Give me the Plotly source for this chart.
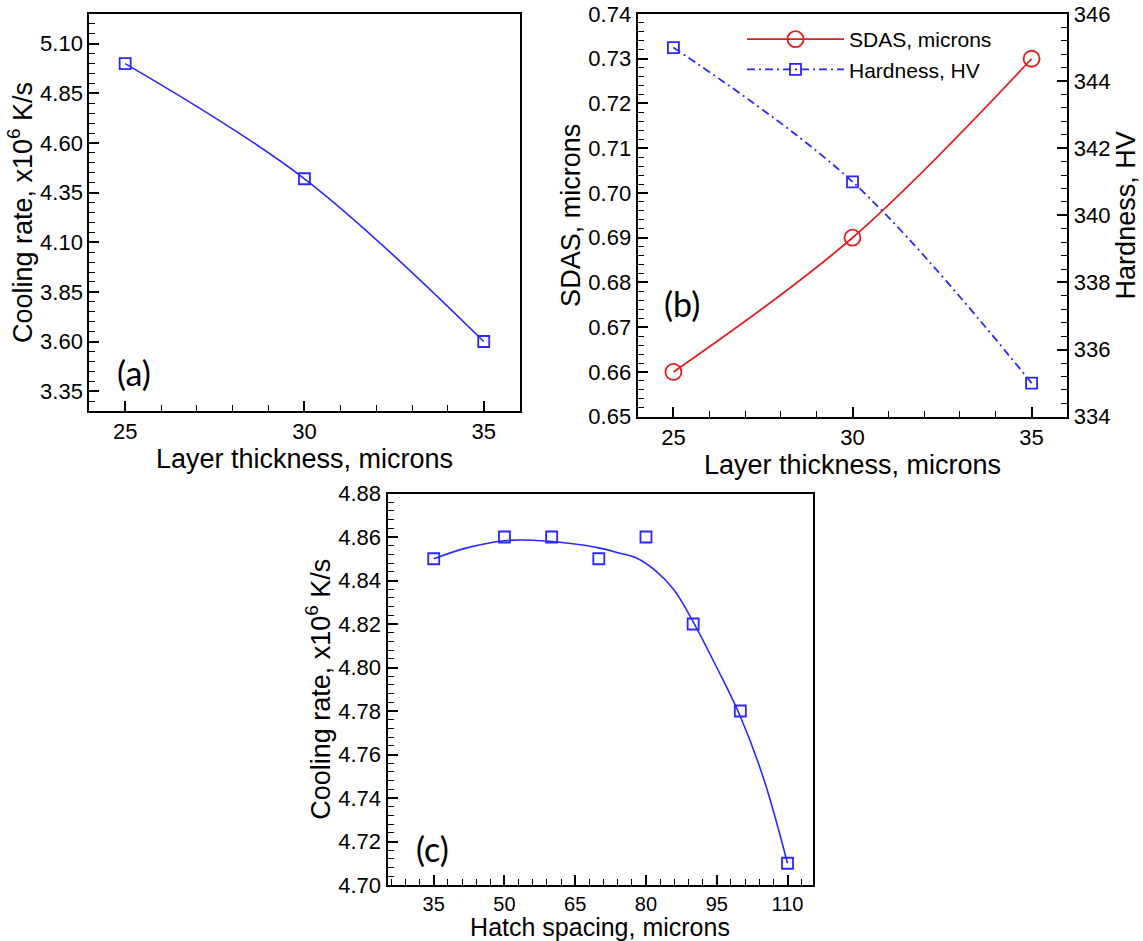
import plotly.graph_objects as go

# ---------------- data ----------------
# Panel (a): cooling rate vs layer thickness
layer_thickness = [25, 30, 35]
cooling_rate_a = [5.00, 4.42, 3.60]

# Panel (b): SDAS and hardness vs layer thickness
sdas = [0.66, 0.69, 0.73]
hardness = [345, 341, 335]

# Panel (c): cooling rate vs hatch spacing (points + fitted curve)
hatch_spacing = [35, 50, 60, 70, 80, 90, 100, 110]
cooling_rate_c = [4.85, 4.86, 4.86, 4.85, 4.86, 4.82, 4.78, 4.71]
fit_x = [35, 42, 50, 56, 64, 70, 74, 78, 82, 86, 90, 95, 100, 105, 110]
fit_y = [4.850, 4.855, 4.8583, 4.8585, 4.857, 4.855, 4.8528, 4.8503, 4.8445,
         4.8355, 4.821, 4.800, 4.7775, 4.7485, 4.710]

BLUE = "rgb(40,40,255)"
RED = "rgb(228,30,30)"
FONT = "Liberation Sans, Arial, sans-serif"
W, H = 1143, 941


def px(x):
    return x / W


def py(y):
    return 1 - y / H


fig = go.Figure()

# (a)
fig.add_trace(go.Scatter(x=layer_thickness, y=cooling_rate_a, mode="lines+markers",
                         line=dict(color=BLUE, width=1.6, shape="spline"),
                         marker=dict(symbol="square-open", size=11, color=BLUE, line=dict(width=1.8)),
                         xaxis="x", yaxis="y", showlegend=False))

# (b)
fig.add_trace(go.Scatter(x=layer_thickness, y=sdas, mode="lines+markers", name="SDAS, microns",
                         line=dict(color=RED, width=1.8, shape="spline"),
                         marker=dict(symbol="circle-open", size=16, color=RED, line=dict(width=1.8)),
                         xaxis="x2", yaxis="y2"))
fig.add_trace(go.Scatter(x=layer_thickness, y=hardness, mode="lines+markers", name="Hardness, HV",
                         line=dict(color=BLUE, width=1.8, shape="spline", dash="8px,4px,2px,4px"),
                         marker=dict(symbol="square-open", size=11, color=BLUE, line=dict(width=1.8)),
                         xaxis="x2", yaxis="y3"))

# (c)
fig.add_trace(go.Scatter(x=fit_x, y=fit_y, mode="lines",
                         line=dict(color=BLUE, width=1.6, shape="spline", smoothing=1),
                         xaxis="x3", yaxis="y4", showlegend=False))
fig.add_trace(go.Scatter(x=hatch_spacing, y=cooling_rate_c, mode="markers",
                         marker=dict(symbol="square-open", size=11, color=BLUE, line=dict(width=1.8)),
                         xaxis="x3", yaxis="y4", showlegend=False))

TICKFONT = dict(family=FONT, size=22, color="black")
TITLEFONT = dict(family=FONT, size=27, color="black")

common = dict(showline=True, linecolor="black", linewidth=2, mirror=True,
              ticks="inside", ticklen=10, tickwidth=1.5, tickcolor="black",
              showgrid=False, zeroline=False, tickfont=TICKFONT, automargin=False)


def minor(d, t0=None):
    m = dict(ticks="inside", ticklen=6, tickwidth=1, tickcolor="black", dtick=d, showgrid=False)
    if t0 is not None:
        m["tick0"] = t0
    return m


common_c = dict(common)
common_c["tickfont"] = dict(family=FONT, size=20, color="black")

fig.update_layout(
    width=W, height=H, margin=dict(l=0, r=0, t=0, b=0),
    paper_bgcolor="white", plot_bgcolor="white",
    font=dict(family=FONT, color="black"),
    # (a)
    xaxis=dict(domain=[px(89.3), px(519.6)], anchor="y", range=[24, 36],
               tickmode="array", tickvals=[25, 30, 35], minor=minor(1, 25),
               title=dict(text="Layer thickness, microns", font=TITLEFONT, standoff=0), **common),
    yaxis=dict(domain=[py(411), py(14)], anchor="x", range=[3.25, 5.25],
               tick0=3.35, dtick=0.25, tickformat=".2f", minor=minor(0.05, 3.35),
               title=dict(text="Cooling rate, x10<sup>6</sup> K/s", font=TITLEFONT, standoff=0), **common),
    # (b)
    xaxis2=dict(domain=[px(637.6), px(1067.4)], anchor="y2", range=[24, 36],
                tickmode="array", tickvals=[25, 30, 35], minor=minor(1, 25),
                title=dict(text="Layer thickness, microns", font=TITLEFONT, standoff=0), **common),
    yaxis2=dict(domain=[py(416.7), py(14)], anchor="x2", range=[0.65, 0.74],
                tick0=0.65, dtick=0.01, tickformat=".2f", minor=minor(0.002, 0.65),
                title=dict(text="SDAS, microns", font=TITLEFONT, standoff=0), **common),
    yaxis3=dict(domain=[py(416.7), py(14)], anchor="x2", overlaying="y2", side="right",
                range=[334, 346], tick0=334, dtick=2, minor=minor(0.4, 334),
                title=dict(text="Hardness, HV", font=TITLEFONT, standoff=0),
                **{k: v for k, v in common.items() if k != "mirror"}),
    # (c)
    xaxis3=dict(domain=[px(387.5), px(812.5)], anchor="y4", range=[25.2, 115.3],
                tick0=35, dtick=15, minor=minor(3, 35),
                title=dict(text="Hatch spacing, microns",
                           font=dict(family=FONT, size=25, color="black"), standoff=1),
                **common_c),
    yaxis4=dict(domain=[py(885), py(493.5)], anchor="x3", range=[4.70, 4.88],
                tick0=4.70, dtick=0.02, tickformat=".2f", minor=minor(0.004, 4.70),
                title=dict(text="Cooling rate, x10<sup>6</sup> K/s", font=TITLEFONT, standoff=0),
                **common),
    legend=dict(x=px(742), y=py(19), xanchor="left", yanchor="top",
                bgcolor="rgba(0,0,0,0)", itemwidth=97,
                font=dict(family=FONT, size=21, color="black"), tracegroupgap=0),
)

LABELFONT = dict(family="Lato, Carlito, sans-serif", size=34, color="black")
for txt, cx, cy in [("(a)", 134, 372), ("(b)", 682, 303), ("(c)", 432, 848)]:
    fig.add_annotation(text=txt, x=px(cx), y=py(cy), xref="paper", yref="paper",
                       xanchor="center", yanchor="middle", showarrow=False, font=LABELFONT)

fig.write_html("out.html")
